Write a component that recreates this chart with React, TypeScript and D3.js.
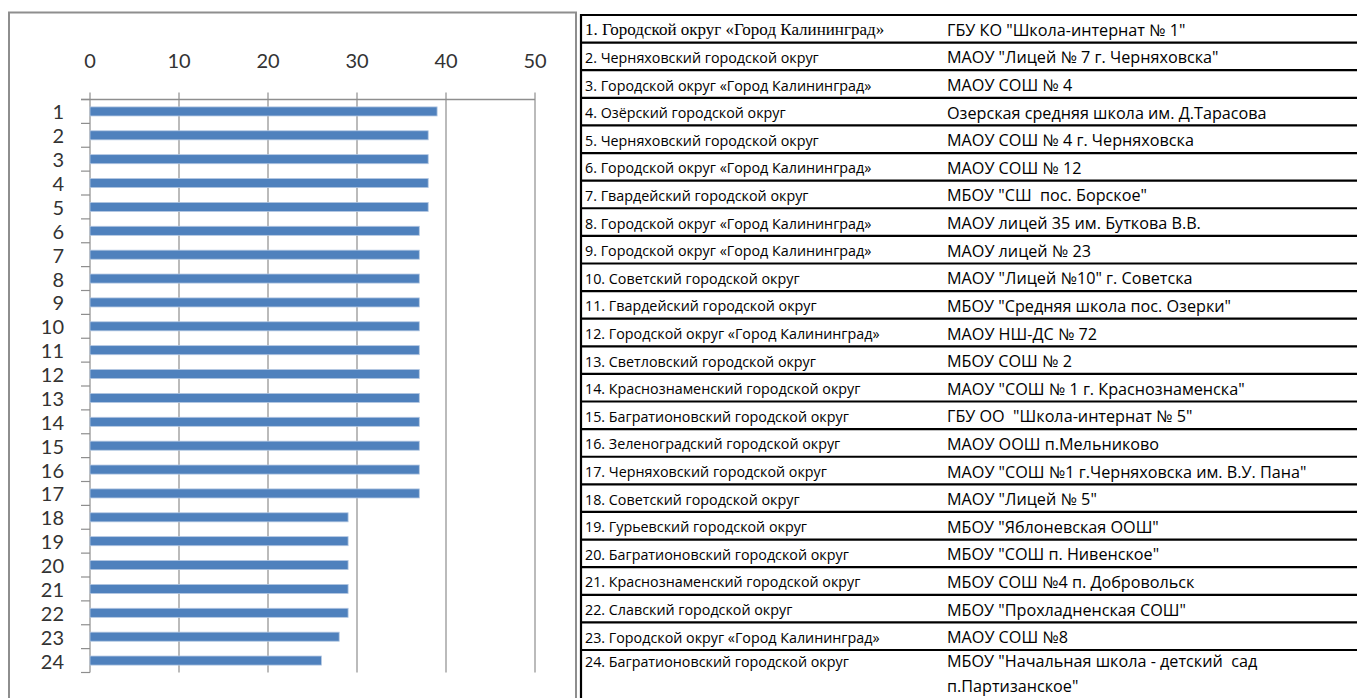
import * as d3 from "d3";
import React from "react";

const categories = [
  "1", "2", "3", "4", "5", "6", "7", "8", "9", "10", "11", "12",
  "13", "14", "15", "16", "17", "18", "19", "20", "21", "22", "23", "24",
];

const values = [39, 38, 38, 38, 38, 37, 37, 37, 37, 37, 37, 37, 37, 37, 37, 37, 37, 29, 29, 29, 29, 29, 28, 26];

const xTicks = [0, 10, 20, 30, 40, 50];

const districts = [
  "1. Городской округ «Город Калининград»",
  "2. Черняховский городской округ",
  "3. Городской округ «Город Калининград»",
  "4. Озёрский городской округ",
  "5. Черняховский городской округ",
  "6. Городской округ «Город Калининград»",
  "7. Гвардейский городской округ",
  "8. Городской округ «Город Калининград»",
  "9. Городской округ «Город Калининград»",
  "10. Советский городской округ",
  "11. Гвардейский городской округ",
  "12. Городской округ «Город Калининград»",
  "13. Светловский городской округ",
  "14. Краснознаменский городской округ",
  "15. Багратионовский городской округ",
  "16. Зеленоградский городской округ",
  "17. Черняховский городской округ",
  "18. Советский городской округ",
  "19. Гурьевский городской округ",
  "20. Багратионовский городской округ",
  "21. Краснознаменский городской округ",
  "22. Славский городской округ",
  "23. Городской округ «Город Калининград»",
  "24. Багратионовский городской округ",
];

const schools = [
  ["ГБУ КО \"Школа-интернат № 1\""],
  ["МАОУ \"Лицей № 7 г. Черняховска\""],
  ["МАОУ СОШ № 4"],
  ["Озерская средняя школа им. Д.Тарасова"],
  ["МАОУ СОШ № 4 г. Черняховска"],
  ["МАОУ СОШ № 12"],
  ["МБОУ \"СШ  пос. Борское\""],
  ["МАОУ лицей 35 им. Буткова В.В."],
  ["МАОУ лицей № 23"],
  ["МАОУ \"Лицей №10\" г. Советска"],
  ["МБОУ \"Средняя школа пос. Озерки\""],
  ["МАОУ НШ-ДС № 72"],
  ["МБОУ СОШ № 2"],
  ["МАОУ \"СОШ № 1 г. Краснознаменска\""],
  ["ГБУ ОО  \"Школа-интернат № 5\""],
  ["МАОУ ООШ п.Мельниково"],
  ["МАОУ \"СОШ №1 г.Черняховска им. В.У. Пана\""],
  ["МАОУ \"Лицей № 5\""],
  ["МБОУ \"Яблоневская ООШ\""],
  ["МБОУ \"СОШ п. Нивенское\""],
  ["МБОУ СОШ №4 п. Добровольск"],
  ["МБОУ \"Прохладненская СОШ\""],
  ["МАОУ СОШ №8"],
  ["МБОУ \"Начальная школа - детский  сад", "п.Партизанское\""],
];

const W = 1358;
const H = 698;
const axisFont = "Lato, 'Open Sans', sans-serif";
const tableFont = "'Open Sans', 'Noto Sans', sans-serif";
const gridColor = "#8e8e8e";

export default function App() {
  const x = d3.scaleLinear().domain([0, 50]).range([90, 535]);
  const y = d3
    .scaleBand<string>()
    .domain(categories)
    .range([99.5, 672.5])
    .paddingInner(0.62)
    .paddingOuter(0.31);
  const [y0] = y.range();
  const boundaries = d3.range(categories.length + 1).map((i) => y0 + i * y.step());

  const rowY = d3.scaleLinear().domain([0, 23]).range([15, 650]);
  const rowH = rowY(1) - rowY(0);

  return (
    <svg width={W} height={H} style={{ position: "absolute", left: 0, top: 0 }}>
      <rect width={W} height={H} fill="#fff" />

      {/* chart frame */}
      <rect x={9} y={12.5} width={567} height={H} fill="none" stroke={gridColor} strokeWidth={2} />

      {/* vertical gridlines + top ticks */}
      {xTicks.map((t) => (
        <g key={t}>
          <line x1={x(t)} x2={x(t)} y1={y0 - 7} y2={boundaries[boundaries.length - 1]} stroke={gridColor} strokeWidth={1.2} />
          <text
            x={x(t)}
            y={60}
            textAnchor="middle"
            dominantBaseline="central"
            fontFamily={axisFont}
            fontSize={20}
            fill="#333"
          >
            {t}
          </text>
        </g>
      ))}

      {/* top axis line */}
      <line x1={x(0) - 9} x2={x(50)} y1={y0} y2={y0} stroke={gridColor} strokeWidth={1.4} />

      {/* left ticks */}
      {boundaries.map((b, i) => (
        <line key={i} x1={x(0) - 9} x2={x(0)} y1={b} y2={b} stroke={gridColor} strokeWidth={1.2} />
      ))}

      {/* bars */}
      {categories.map((c, i) => (
        <g key={c}>
          <rect
            x={x(0)}
            y={y(c)}
            width={x(values[i]) - x(0)}
            height={y.bandwidth()}
            fill="#4f81bd"
            stroke="#b4c8e2"
            strokeWidth={0.8}
          />
          <text
            x={64}
            y={(y(c) as number) + y.bandwidth() / 2}
            textAnchor="end"
            dominantBaseline="central"
            fontFamily={axisFont}
            fontSize={20}
            fill="#333"
          >
            {c}
          </text>
        </g>
      ))}

      {/* table */}
      <line x1={581} x2={581} y1={14} y2={H} stroke="#000" strokeWidth={2.2} />
      {d3.range(24).map((i) => (
        <line key={i} x1={580} x2={1357} y1={rowY(i)} y2={rowY(i)} stroke="#000" strokeWidth={2.2} />
      ))}
      {districts.map((d, i) => {
        const last = i === districts.length - 1;
        const ty = last ? rowY(i) + 11 : rowY(i) + rowH / 2 + 1;
        return (
          <g key={i}>
            <text
              x={585}
              y={ty}
              dominantBaseline="central"
              fontFamily={i === 0 ? "'Liberation Serif', serif" : tableFont}
              fontSize={i === 0 ? 17 : 14.3}
              fill="#000"
            >
              {d}
            </text>
            {schools[i].map((s, j) => (
              <text
                key={j}
                x={947}
                y={ty + j * 25}
                dominantBaseline="central"
                fontFamily={tableFont}
                fontSize={16.2}
                fill="#000"
                style={{ whiteSpace: "pre" }}
              >
                {s}
              </text>
            ))}
          </g>
        );
      })}
    </svg>
  );
}
